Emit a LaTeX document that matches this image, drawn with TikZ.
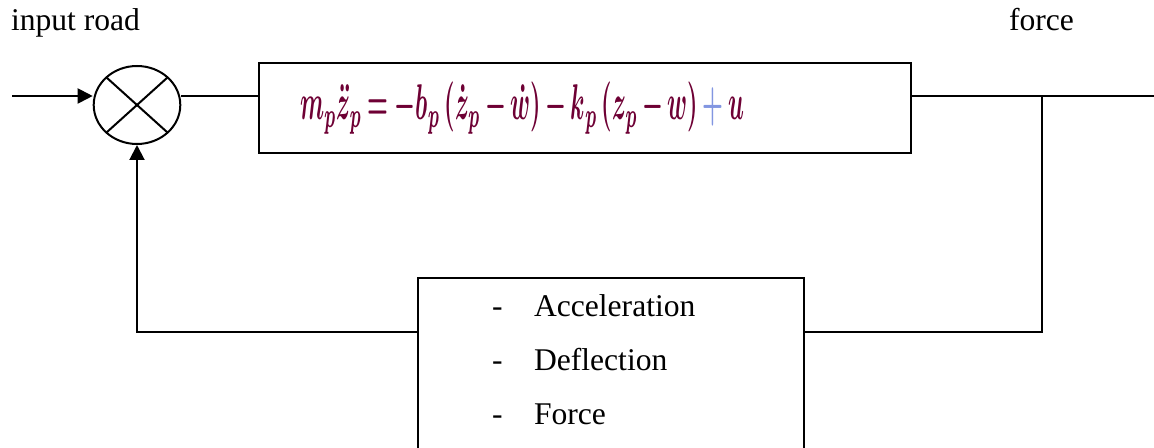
\documentclass[tikz,border=0pt]{standalone}
\usepackage{fontspec}
\setmainfont{Liberation Serif}
\usepackage{amsmath}
\usepackage{graphicx}
\usetikzlibrary{arrows.meta,shapes.geometric,calc}
\definecolor{eqred}{RGB}{110,0,52}
\definecolor{plusblue}{RGB}{130,150,225}
\begin{document}
\begin{tikzpicture}[x=0.5pt,y=-0.5pt,
  line width=1pt,
  lbl/.style={font=\fontsize{15.8}{19}\selectfont, inner sep=0, anchor=base west},
  arr/.style={-{Triangle[length=7.5pt,width=7.5pt]}},
  blockbox/.style={draw, rectangle, inner sep=0}]
\useasboundingbox (0,0) rectangle (1154,448);
\clip (0,0) rectangle (1154,448);

% texts
\node[lbl] (tin) at (10,31) {input road};
\node[lbl] (tforce) at (1008,31) {force};

% summing junction
\node[draw, ellipse, minimum width=43.3pt, minimum height=39pt, inner sep=0] (sum) at (137,105) {};
\draw ($(sum.center)+(-30.6,-27.6)$) -- ($(sum.center)+(30.6,27.6)$);
\draw ($(sum.center)+(30.6,-27.6)$) -- ($(sum.center)+(-30.6,27.6)$);

% main block
\node[blockbox, minimum width=326pt, minimum height=45.3pt] (plant) at (585,108) {};
\node[inner sep=0, anchor=base west, text=eqred] (eq) at (299,120)
  {\resizebox*{222pt}{26pt}{\boldmath\medmuskip=3mu\thickmuskip=4mu$m_p\ddot{z}_p=-b_p\left(\dot{z}_p-\dot{w}\right)-k_p\left(z_p-w\right)\mathbin{\color{plusblue}+}u$}};

% feedback block (cut off at bottom)
\node[blockbox, anchor=north west, minimum width=193pt, minimum height=100pt] (fb) at (417,277) {};
\node[lbl] (d1) at (491,316) {-};
\node[lbl] (d2) at (491,370) {-};
\node[lbl] (d3) at (491,424) {-};
\node[lbl] (t1) at (533,316) {Acceleration};
\node[lbl] (t2) at (533,370) {Deflection};
\node[lbl] (t3) at (533,424) {Force};

% coordinates
\coordinate (in) at (12,96);
\coordinate (out) at (1154,96);
\coordinate (br) at (1042,96);
\coordinate (brd) at (1042,332);
\coordinate (fbl) at (137,332);

% connectors
\draw[arr] (in) -- (in -| sum.west);
\draw (sum.east |- in) -- (plant.west |- in);
\draw (plant.east |- in) -- (out);
\draw (br) -- (brd) -- (fb.east |- brd);
\draw[arr] (fb.west |- brd) -- (fbl) -- (sum.south);
\end{tikzpicture}
\end{document}
